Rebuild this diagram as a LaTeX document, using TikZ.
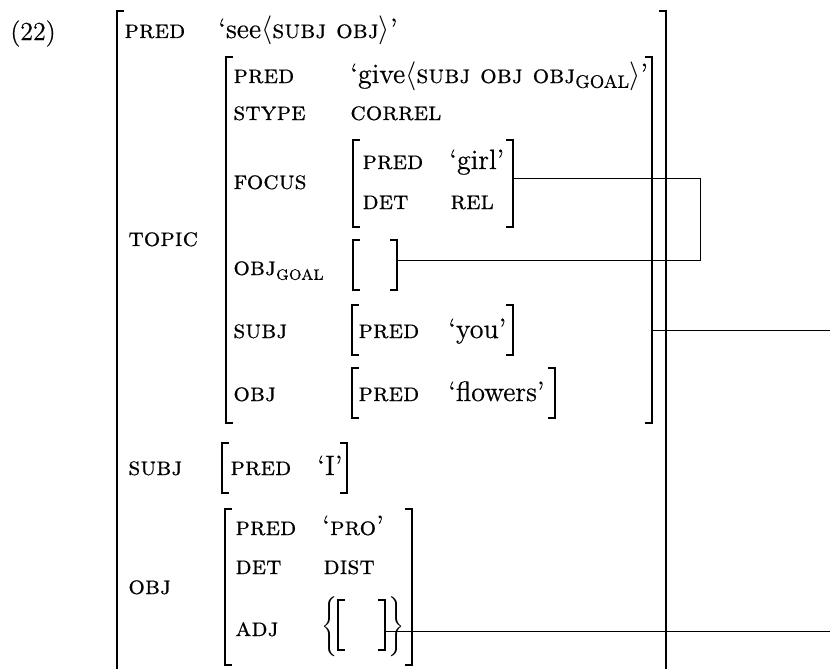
\documentclass[tikz,border=0pt]{standalone}
\usepackage{fontspec}
\setmainfont{Latin Modern Roman}[FakeBold=0.5]
\newfontfamily\scfont{lmromancaps10-regular.otf}[FakeBold=0.5]
\usetikzlibrary{fit}
\newcommand\fsbr[1]{%
  \draw[br] ([xshift=3.5pt]#1.north west) -- (#1.north west) -- (#1.south west) -- ([xshift=3.5pt]#1.south west);
  \draw[br] ([xshift=-3.5pt]#1.north east) -- (#1.north east) -- (#1.south east) -- ([xshift=-3.5pt]#1.south east);}
\newcommand\sck[1]{{\fontsize{13}{15}\selectfont\scfont #1}}
\newcommand\goalsub{\raisebox{-2.4pt}{\fontsize{9}{11}\selectfont GOAL}}
\newcommand\goalsc{\raisebox{-2.4pt}{\fontsize{10}{11}\selectfont\scfont goal}}
\begin{document}
\begin{tikzpicture}[x=0.5pt,y=-0.5pt,
  txt/.style={anchor=base west,inner sep=0pt,font=\fontsize{14}{16}\selectfont},
  fs/.style={inner sep=0pt,draw=none},
  br/.style={line width=1pt},
  conn/.style={line width=0.5pt}]
\useasboundingbox (0,0) rectangle (830,669);
\clip (0,0) rectangle (830,669);
\coordinate (rim) at (830,0);
\coordinate (loop) at (700,0);
% structures
\node[fs,fit={(117,11) (666,720)}] (outer) {};
\node[fs,fit={(226,57) (652,423)}] (topic) {};
\node[fs,fit={(353,140) (513,227)}] (focus) {};
\node[fs,fit={(353,240) (397,290)}] (goal) {};
\node[fs,fit={(352,305) (513,355)}] (tsubj) {};
\node[fs,fit={(352,368) (555,418)}] (tobj) {};
\node[fs,fit={(222,443) (347,493)}] (subj) {};
\node[fs,fit={(225,509) (412,665)}] (obj) {};
\node[fs,fit={(338,600) (385,650)}] (adj) {};
\foreach \n in {outer,topic,focus,goal,tsubj,tobj,subj,obj,adj} {\fsbr{\n}}
% braces
\node[inner sep=0pt] (lbrace) at (330,627) {$\left\{\vcenter{\hbox{\rule{0pt}{32pt}}}\right.\kern-\nulldelimiterspace$};
\node[inner sep=0pt] (rbrace) at (397,627) {$\kern-\nulldelimiterspace\left.\vcenter{\hbox{\rule{0pt}{32pt}}}\right\}$};
% texts
\node[txt,font=\fontsize{13}{15}\selectfont] (ex) at (10,40) {(22)};
\node[txt] (l1) at (124,38) {\sck{pred}};
\node[txt] (v1) at (218,38) {`see$\langle$\sck{subj obj}$\rangle$'};
\node[txt] (l2) at (128,246) {\sck{topic}};
\node[txt] (l3) at (128,475) {\sck{subj}};
\node[txt] (l4) at (128,594) {\sck{obj}};
\node[txt] (t1) at (233,83) {\sck{pred}};
\node[txt] (tv1) at (350,83) {`give$\langle$\sck{subj obj obj}\goalsub$\rangle$'};
\node[txt] (t2) at (233,120) {\sck{stype}};
\node[txt] (tv2) at (350,120) {\sck{correl}};
\node[txt] (t3) at (233,189) {\sck{focus}};
\node[txt] (t4) at (233,275) {\sck{obj}\goalsc};
\node[txt] (t5) at (233,338) {\sck{subj}};
\node[txt] (t6) at (233,401) {\sck{obj}};
\node[txt] (f1) at (362,169) {\sck{pred}};
\node[txt] (fv1) at (449,169) {`girl'};
\node[txt] (f2) at (362,209) {\sck{det}};
\node[txt] (fv2) at (450,209) {\sck{rel}};
\node[txt] (s1) at (358,338) {\sck{pred}};
\node[txt] (sv1) at (448,338) {`you'};
\node[txt] (o1) at (358,401) {\sck{pred}};
\node[txt] (ov1) at (448,401) {`flowers'};
\node[txt] (u1) at (230,475) {\sck{pred}};
\node[txt] (uv1) at (317,475) {`I'};
\node[txt] (b1) at (235,535) {\sck{pred}};
\node[txt] (bv1) at (322,535) {`\sck{pro}'};
\node[txt] (b2) at (235,574) {\sck{det}};
\node[txt] (bv2) at (323,574) {\sck{dist}};
\node[txt] (b3) at (235,636) {\sck{adj}};
% connectors
\coordinate (focusOut) at ([yshift=2.75pt]focus.east);
\coordinate (goalIn) at ([yshift=2.5pt]goal.east);
\draw[conn] (focusOut) -- (focusOut -| loop) -- (goalIn -| loop) -- (goalIn);
\coordinate (topicOut) at (topic.east |- tsubj.east);
\draw[conn] (topicOut) -- (topicOut -| rim);
\coordinate (adjOut) at ([yshift=-3pt]adj.east);
\draw[conn] (adjOut) -- (adjOut -| rim);
\end{tikzpicture}
\end{document}
